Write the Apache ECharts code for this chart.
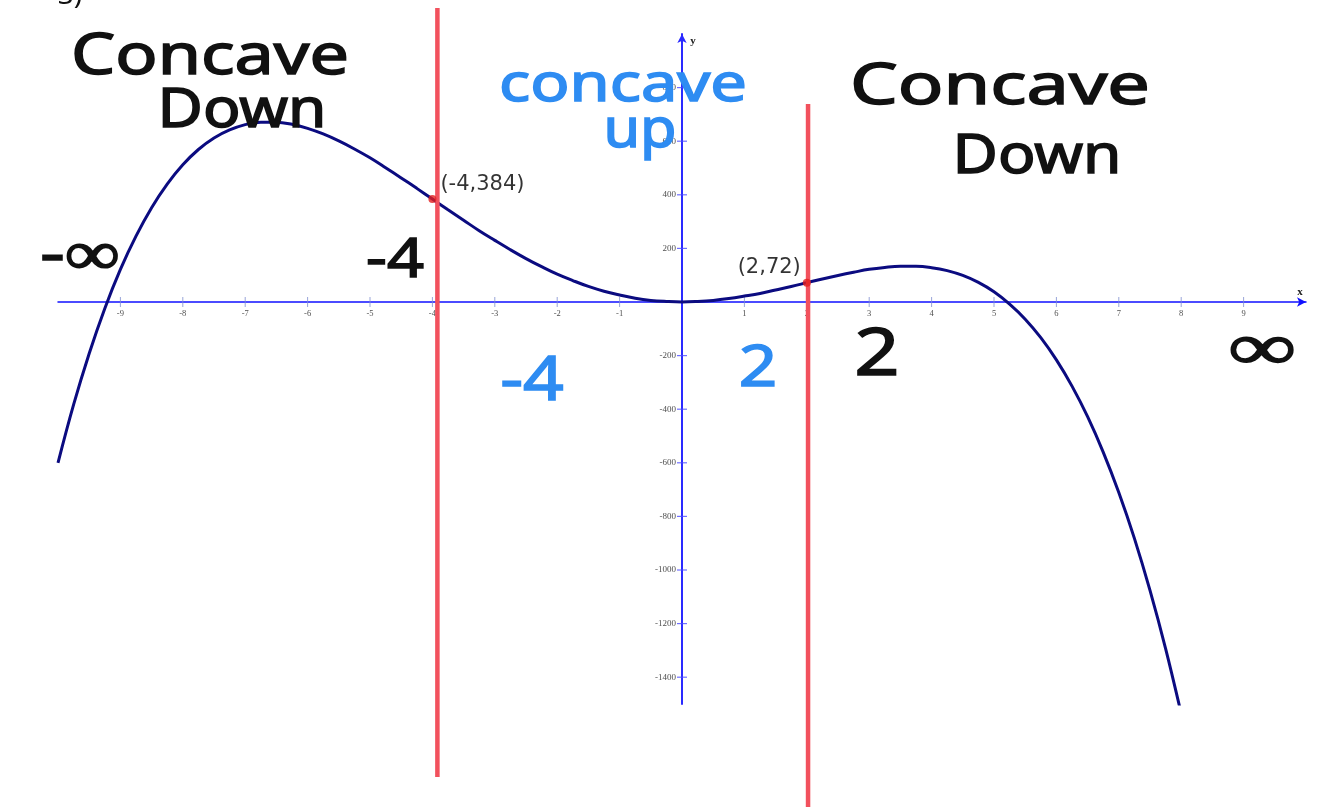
<!DOCTYPE html>
<html>
<head>
<meta charset="utf-8">
<script src="https://cdn.jsdelivr.net/npm/echarts@6/dist/echarts.min.js"></script>
<style>
  html, body { margin: 0; padding: 0; background: #fff; }
  #chart { width: 1317px; height: 807px; }
</style>
</head>
<body>
<div id="chart"></div>
<script>
// Curve samples (x, y) of the polynomial graph
const curveX = [-10, -9.75, -9.5, -9.25, -9, -8.75, -8.5, -8.25, -8, -7.75, -7.5, -7.25, -7, -6.75, -6.5, -6.25,
                -6, -5.75, -5.5, -5.25, -5, -4.75, -4.5, -4.25, -4, -3.75, -3.5, -3.25, -3, -2.75, -2.5, -2.25,
                -2, -1.75, -1.5, -1.25, -1, -0.75, -0.5, -0.25, 0, 0.25, 0.5, 0.75, 1, 1.25, 1.5, 1.75,
                2, 2.25, 2.5, 2.75, 3, 3.25, 3.5, 3.75, 4, 4.25, 4.5, 4.75, 5, 5.25, 5.5, 5.75,
                6, 6.25, 6.5, 6.75, 7, 7.25, 7.5, 7.75, 8];
const curveY = [-600, -383, -192, -24, 122, 246, 352, 440, 512, 569, 612, 642, 662, 671, 671, 663,
                648, 627, 601, 571, 538, 501, 463, 424, 384, 344, 305, 266, 230, 195, 162, 132,
                104, 80, 58, 40, 26, 14, 6, 2, 0, 2, 6, 13, 22, 32, 45, 58,
                72, 86, 99, 111, 122, 129, 133, 133, 128, 117, 99, 73, 38, -8, -64, -133,
                -216, -314, -428, -560, -711, -882, -1076, -1293, -1536];

// Inflection points
const inflectX = [-4, 2];
const inflectY = [384, 72];

// Hand-drawn dividing lines (x positions)
const dividerX = [-3.92, 2.02];

// Axis ticks
const xTicks = [-9, -8, -7, -6, -5, -4, -3, -2, -1, 1, 2, 3, 4, 5, 6, 7, 8, 9];
const yTicks = [-1400, -1200, -1000, -800, -600, -400, -200, 200, 400, 600, 800];

// Handwritten notes
const notes = [
  { text: 'Concave', x: 210, y: 58, size: 56, sx: 1.25, color: '#111111' },
  { text: 'Down', x: 242, y: 112, size: 54, sx: 1.15, color: '#111111' },
  { text: 'concave', x: 623, y: 86, size: 52, sx: 1.25, color: '#2e8cf2' },
  { text: 'up', x: 640, y: 132, size: 54, sx: 1.1, color: '#2e8cf2' },
  { text: 'Concave', x: 1000, y: 88, size: 56, sx: 1.35, color: '#111111' },
  { text: 'Down', x: 1037, y: 158, size: 54, sx: 1.15, color: '#111111' },
  { text: '-\u221e', x: 80, y: 256, size: 62, sx: 1.25, color: '#111111' },
  { text: '-4', x: 395, y: 262, size: 54, sx: 1.2, color: '#111111' },
  { text: '-4', x: 532, y: 382, size: 62, sx: 1.15, color: '#2e8cf2' },
  { text: '2', x: 758, y: 370, size: 56, sx: 1.2, color: '#2e8cf2' },
  { text: '2', x: 877, y: 356, size: 66, sx: 1.2, color: '#111111' },
  { text: '\u221e', x: 1262, y: 350, size: 66, sx: 1.45, color: '#111111' }
];

const curveData = curveX.map((x, i) => [x, curveY[i]]);
const pointData = inflectX.map((x, i) => [x, inflectY[i]]);

const chart = echarts.init(document.getElementById('chart'), null, { renderer: 'canvas' });

const tickLabel = { show: true, fontFamily: 'Liberation Serif', color: '#1a1a1a', fontSize: 8.5 };

chart.setOption({
  animation: false,
  backgroundColor: '#ffffff',
  grid: { left: 58, right: 11, top: 34, bottom: 103, containLabel: false },
  xAxis: {
    type: 'value', min: -10, max: 10, interval: 1,
    axisLine: { onZero: true, symbol: ['none', 'arrow'], symbolSize: [7, 9], lineStyle: { color: '#1010ff', width: 1.5 } },
    axisTick: { show: false },
    splitLine: { show: false },
    axisLabel: { show: false }
  },
  yAxis: {
    type: 'value', min: -1500, max: 1000, interval: 100,
    axisLine: { onZero: true, symbol: ['none', 'arrow'], symbolSize: [7, 9], lineStyle: { color: '#2a2aff', width: 2 } },
    axisTick: { show: false },
    splitLine: { show: false },
    axisLabel: { show: false }
  },
  series: [
    {
      // x-axis tick marks with their labels
      type: 'scatter', silent: true, z: 1,
      symbol: 'rect', symbolSize: [1, 10],
      itemStyle: { color: '#7f8fd0' },
      label: { ...tickLabel, position: 'bottom', distance: 2, formatter: p => String(p.value[0]) },
      data: xTicks.map(x => [x, 0])
    },
    {
      // y-axis tick marks with their labels
      type: 'scatter', silent: true, z: 1,
      symbol: 'rect', symbolSize: [10, 1.2],
      itemStyle: { color: '#4a4aff' },
      label: { ...tickLabel, fontSize: 9, position: 'left', distance: 1, formatter: p => String(p.value[1]) },
      data: yTicks.map(y => [0, y])
    },
    {
      type: 'line', smooth: 0.4, showSymbol: false, z: 2,
      lineStyle: { color: '#0b0b80', width: 3 },
      data: curveData
    },
    {
      type: 'scatter', z: 10, symbolSize: 8,
      itemStyle: { color: '#e41e1e' },
      label: {
        show: true, fontFamily: 'DejaVu Sans', fontSize: 21, color: '#000000',
        formatter: p => '(' + p.value[0] + ',' + p.value[1] + ')'
      },
      data: [
        { value: pointData[0], label: { position: 'right', offset: [-1, -15] } },
        { value: pointData[1], label: { position: 'left', offset: [3, -15] } }
      ]
    }
  ]
});

// Overlays positioned through the axis scales
const px = (x, y) => chart.convertToPixel({ gridIndex: 0 }, [x, y]);
const xEnd = px(10, 0);
const yEnd = px(0, 1000);
const lineA = px(dividerX[0], 0);
const lineB = px(dividerX[1], 0);

const graphics = [
  { type: 'line', z: 5, shape: { x1: lineA[0], y1: 8, x2: lineA[0], y2: 777 }, style: { stroke: '#f2515d', lineWidth: 4.5 } },
  { type: 'line', z: 5, shape: { x1: lineB[0], y1: 104, x2: lineB[0], y2: 807 }, style: { stroke: '#f2515d', lineWidth: 4.5 } },
  { type: 'text', z: 6, x: xEnd[0] - 6, y: xEnd[1] - 10, style: { text: 'x', font: 'bold 11px "Liberation Serif"', fill: '#222', align: 'center', verticalAlign: 'middle' } },
  { type: 'text', z: 6, x: yEnd[0] + 11, y: yEnd[1] + 7, style: { text: 'y', font: 'bold 11px "Liberation Serif"', fill: '#222', align: 'center', verticalAlign: 'middle' } },
  { type: 'text', z: 6, x: 70, y: -4, style: { text: '3)', font: '28px "Noto Sans"', fill: '#111', align: 'center', verticalAlign: 'middle' } }
];

notes.forEach(n => {
  graphics.push({
    type: 'text', z: 20, x: n.x, y: n.y, scaleX: n.sx, scaleY: 1,
    style: {
      text: n.text, font: n.size + 'px "Noto Sans"', fill: n.color,
      stroke: n.color, lineWidth: 1.5, align: 'center', verticalAlign: 'middle'
    }
  });
});

chart.setOption({ graphic: graphics });
</script>
</body>
</html>
